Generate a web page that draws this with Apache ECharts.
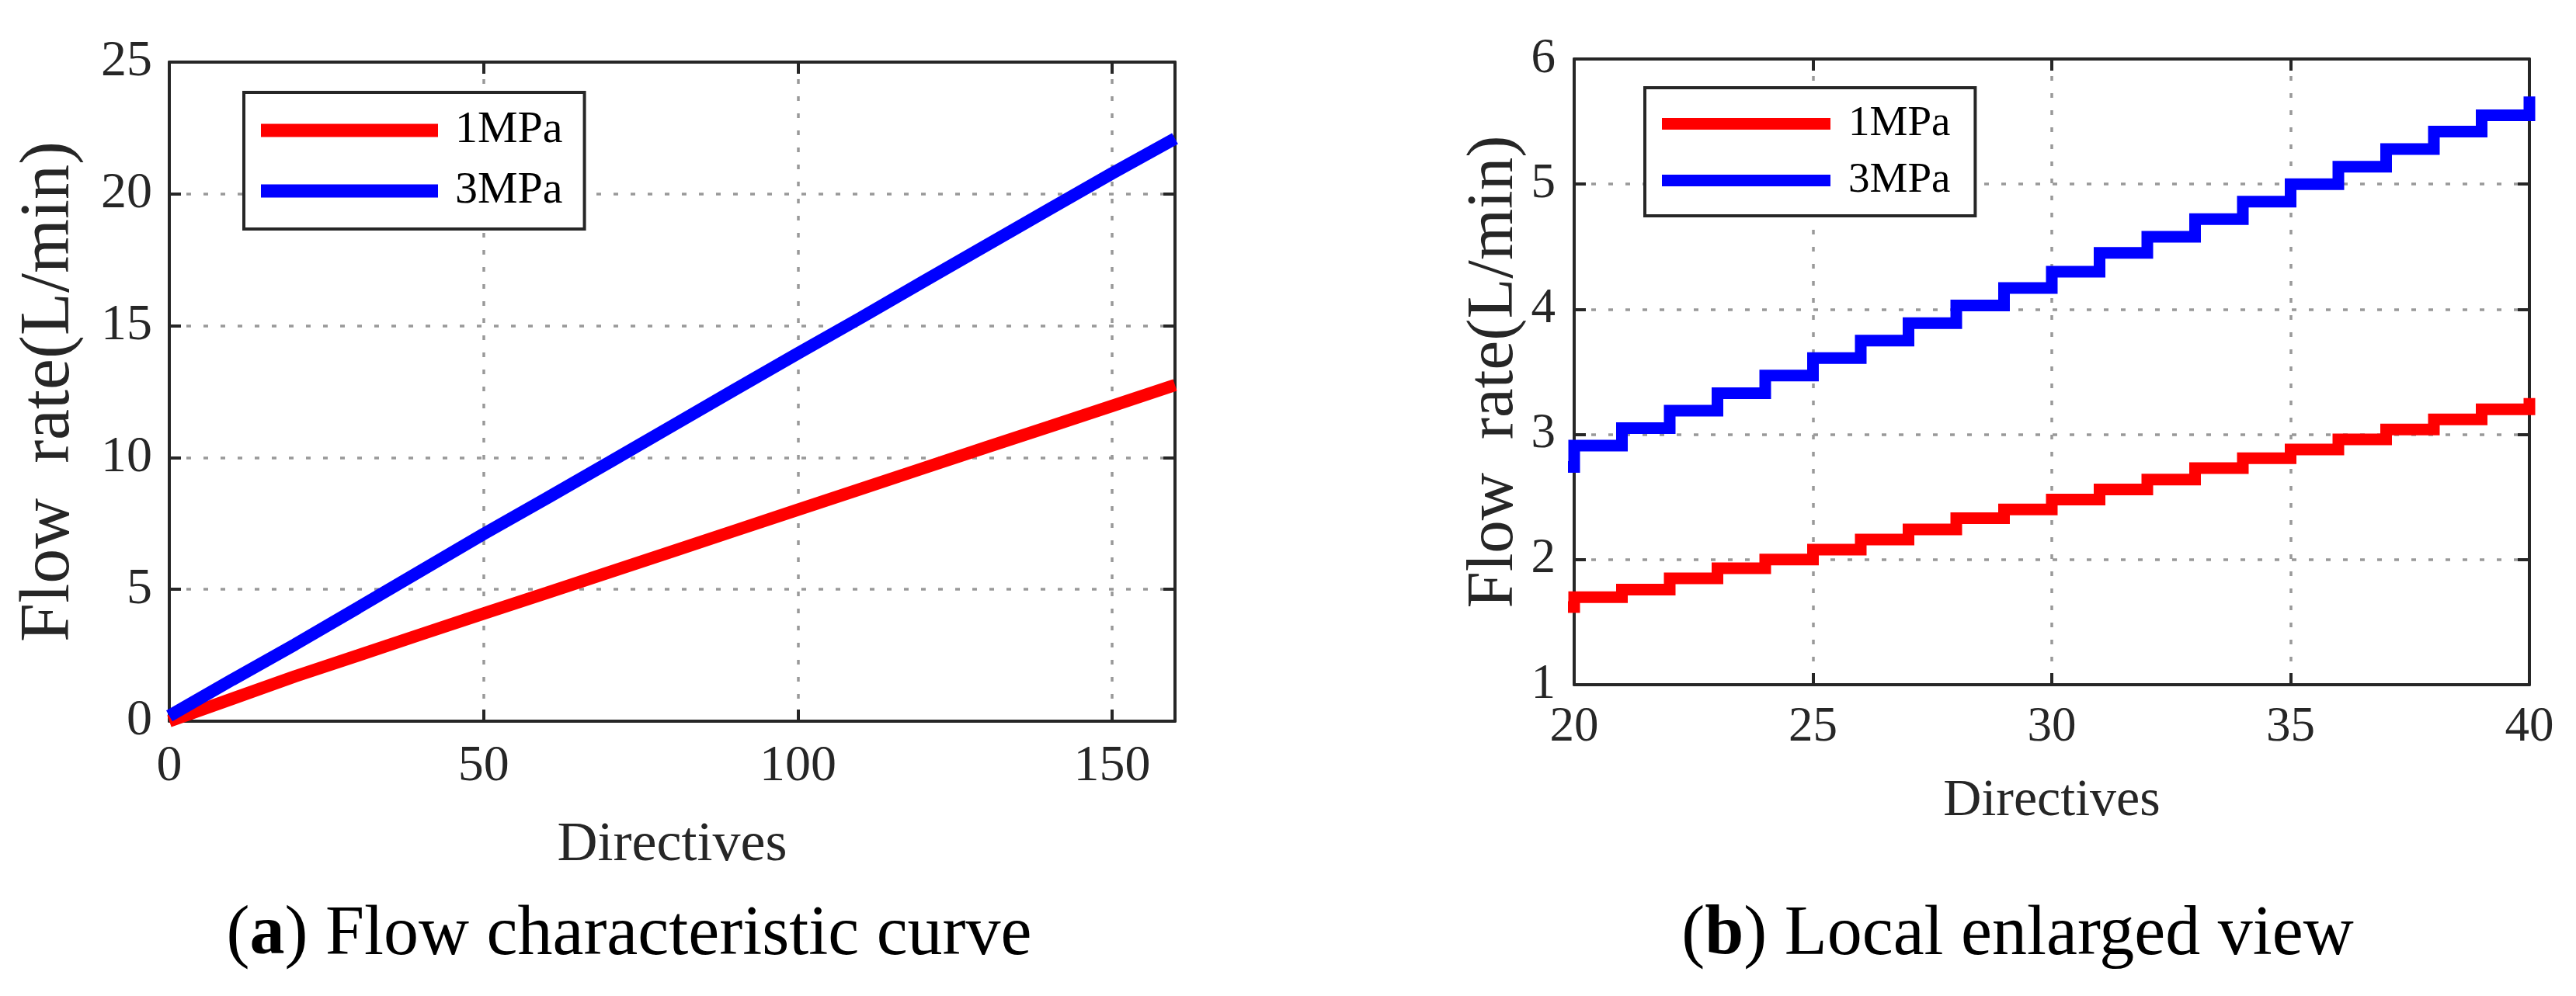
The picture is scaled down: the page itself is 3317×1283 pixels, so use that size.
<!DOCTYPE html>
<html>
<head>
<meta charset="utf-8">
<script src="https://cdn.jsdelivr.net/npm/echarts@6/dist/echarts.min.js"></script>
<style>
  html, body { margin: 0; padding: 0; background: #fff; }
  #chart { width: 3317px; height: 1283px; }
</style>
</head>
<body>
<div id="chart"></div>
<script>
// (a) full range, every 10 directives
const dirA   = [0, 10, 20, 30, 40, 50, 60, 70, 80, 90, 100, 110, 120, 130, 140, 150, 160]
const flowA1 = [0, 0.85, 1.70, 2.49, 3.29, 4.08, 4.86, 5.65, 6.44, 7.23, 8.02, 8.81, 9.60, 10.39, 11.17, 11.96, 12.75]
const flowA3 = [0.2, 1.57, 2.91, 4.30, 5.70, 7.10, 8.45, 9.82, 11.20, 12.58, 13.95, 15.30, 16.68, 18.05, 19.42, 20.78, 22.1]

// (b) zoom on 20..40, one step per directive
const dirB   = [19, 20, 21, 22, 23, 24, 25, 26, 27, 28, 29, 30, 31, 32, 33, 34, 35, 36, 37, 38, 39, 40]
const flowB1 = [1.62, 1.70, 1.76, 1.85, 1.93, 2.00, 2.08, 2.16, 2.24, 2.33, 2.40, 2.48, 2.56, 2.64, 2.73, 2.81, 2.88, 2.96, 3.04, 3.12, 3.20, 3.29]
const flowB3 = [2.74, 2.91, 3.05, 3.19, 3.33, 3.47, 3.61, 3.75, 3.89, 4.03, 4.17, 4.30, 4.45, 4.58, 4.72, 4.86, 5.00, 5.14, 5.28, 5.42, 5.55, 5.70]

const seriesNames = ['1MPa', '3MPa']
const captionA = '({b|a}) Flow characteristic curve'
const captionB = '({b|b}) Local enlarged view'

const FONT = 'Liberation Serif'
const INK = '#262626'

function pairs(xs, ys){
  return xs.map((x, i) => [x, ys[i]])
}

function mainX(grid, min, max, step, fs, margin, gap, nameSize){
  return {
    type: 'value', gridIndex: grid, min: min, max: max, interval: step,
    name: 'Directives', nameLocation: 'middle', nameGap: gap,
    nameTextStyle: { fontFamily: FONT, fontSize: nameSize, color: INK },
    axisLine: { onZero: false, lineStyle: { color: INK, width: 4 } },
    axisTick: { inside: true, length: 15, lineStyle: { color: INK, width: 4 } },
    axisLabel: { fontFamily: FONT, fontSize: fs, color: INK, margin: margin, showMaxLabel: max % step === 0 },
    splitLine: { show: true, lineStyle: { color: '#999', width: 3.5, type: [6, 16] } }
  }
}
function mainY(grid, min, max, step, fs, margin, gap, nameSize){
  return {
    type: 'value', gridIndex: grid, min: min, max: max, interval: step,
    name: 'Flow  rate(L/min)', nameLocation: 'middle', nameGap: gap,
    nameTextStyle: { fontFamily: FONT, fontSize: nameSize, color: INK },
    axisLine: { onZero: false, lineStyle: { color: INK, width: 4 } },
    axisTick: { inside: true, length: 15, lineStyle: { color: INK, width: 4 } },
    axisLabel: { fontFamily: FONT, fontSize: fs, color: INK, margin: margin },
    splitLine: { show: true, lineStyle: { color: '#999', width: 3.5, type: [6, 16] } }
  }
}
// top / right copies only for the box + ticks
function boxAxis(grid, pos, min, max, step){
  return {
    type: 'value', gridIndex: grid, position: pos, min: min, max: max, interval: step,
    axisLine: { show: true, onZero: false, lineStyle: { color: INK, width: 4 } },
    axisTick: { show: true, inside: true, length: 15, lineStyle: { color: INK, width: 4 } },
    axisLabel: { show: false },
    splitLine: { show: false }
  }
}
function legendBox(left, top, pad, gap, iconW, iconH, fs, textPad){
  return {
    orient: 'vertical', left: left, top: top,
    data: seriesNames, icon: 'rect',
    itemWidth: iconW, itemHeight: iconH, itemGap: gap,
    padding: pad, backgroundColor: '#fff',
    borderColor: INK, borderWidth: 4, borderRadius: 0,
    textStyle: { fontFamily: FONT, fontSize: fs, lineHeight: fs, color: '#000', padding: [0, 0, 0, textPad] },
    selectedMode: false
  }
}

var myChart = echarts.init(document.getElementById('chart'), null, { renderer: 'canvas' })

var option = {
  animation: false,
  backgroundColor: '#fff',
  grid: [
    { left: 218, top: 80, width: 1295, height: 849 },
    { left: 2027, top: 76, width: 1230, height: 806 }
  ],
  xAxis: [
    mainX(0, 0, 160, 50, 66, 26, 124, 72),
    mainX(1, 20, 40, 5, 63, 24, 116, 68),
    boxAxis(0, 'top', 0, 160, 50),
    boxAxis(1, 'top', 20, 40, 5)
  ],
  yAxis: [
    mainY(0, 0, 25, 5, 66, 22, 109, 90),
    mainY(1, 1, 6, 1, 63, 24, 60, 85),
    boxAxis(0, 'right', 0, 25, 5),
    boxAxis(1, 'right', 1, 6, 1)
  ],
  legend: [
    legendBox(314, 119, [20, 28, 20, 22], 20, 228, 17, 58, 17),
    legendBox(2118, 113, [19, 32, 18, 22], 18, 217, 15, 55, 18)
  ],
  series: [
    { name: seriesNames[0], type: 'line', xAxisIndex: 0, yAxisIndex: 0, showSymbol: false, symbol: 'none',
      color: '#ff0000', lineStyle: { width: 16 }, data: pairs(dirA, flowA1) },
    { name: seriesNames[1], type: 'line', xAxisIndex: 0, yAxisIndex: 0, showSymbol: false, symbol: 'none',
      color: '#0000ff', lineStyle: { width: 16 }, data: pairs(dirA, flowA3) },
    { name: seriesNames[0], type: 'line', xAxisIndex: 1, yAxisIndex: 1, showSymbol: false, symbol: 'none', step: 'end',
      color: '#ff0000', lineStyle: { width: 15, join: 'miter', cap: 'butt' }, data: pairs(dirB, flowB1) },
    { name: seriesNames[1], type: 'line', xAxisIndex: 1, yAxisIndex: 1, showSymbol: false, symbol: 'none', step: 'end',
      color: '#0000ff', lineStyle: { width: 15, join: 'miter', cap: 'butt' }, data: pairs(dirB, flowB3) }
  ],
  graphic: [
    { type: 'text', x: 810, y: 1205,
      style: { text: captionA, fontFamily: FONT, fontSize: 90, fill: '#000', align: 'center', verticalAlign: 'middle',
        rich: { b: { fontFamily: FONT, fontSize: 90, fontWeight: 'bold', fill: '#000' } } } },
    { type: 'text', x: 2598, y: 1205,
      style: { text: captionB, fontFamily: FONT, fontSize: 90, fill: '#000', align: 'center', verticalAlign: 'middle',
        rich: { b: { fontFamily: FONT, fontSize: 90, fontWeight: 'bold', fill: '#000' } } } }
  ]
}
myChart.setOption(option)
</script>
</body>
</html>
